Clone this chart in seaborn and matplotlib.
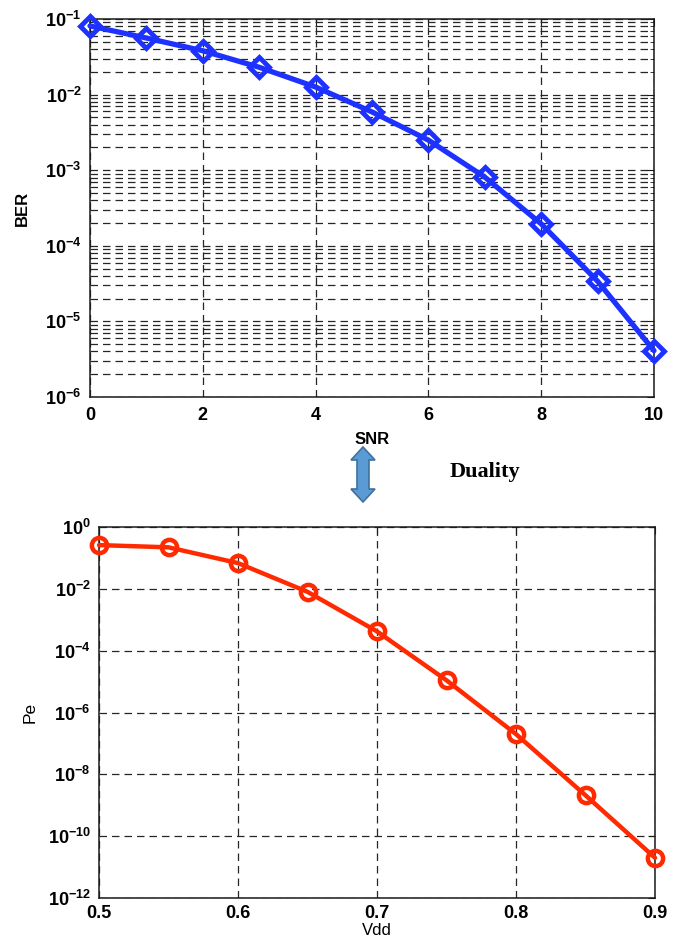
import numpy as np
import pandas as pd
import matplotlib
matplotlib.use("Agg")
import matplotlib.pyplot as plt
import matplotlib.ticker as mticker
from matplotlib.patches import Polygon
import seaborn as sns

# ---- data ----
snr = [0, 1, 2, 3, 4, 5, 6, 7, 8, 9, 10]
ber = [0.081, 0.056, 0.038, 0.023, 0.0126, 0.0059, 0.0025, 8.1e-4, 1.95e-4, 3.4e-5, 4.1e-6]

vdd = [0.5, 0.55, 0.6, 0.65, 0.7, 0.75, 0.8, 0.85, 0.9]
pe = [0.26, 0.22, 0.068, 0.008, 4.2e-4, 1.1e-5, 2.0e-7, 2.1e-9, 2.0e-11]

snr_ticks = [0, 2, 4, 6, 8, 10]
vdd_ticks = [0.5, 0.6, 0.7, 0.8, 0.9]
pe_ticks = [1e0, 1e-2, 1e-4, 1e-6, 1e-8, 1e-10, 1e-12]

sns.set_style("white")
plt.rcParams['font.family'] = ['Liberation Sans', 'DejaVu Sans']
plt.rcParams['mathtext.fontset'] = 'custom'
plt.rcParams['mathtext.bf'] = 'Liberation Sans:bold'
plt.rcParams['mathtext.rm'] = 'Liberation Sans'
plt.rcParams['axes.unicode_minus'] = False
plt.rcParams['text.color'] = 'black'
plt.rcParams['axes.labelcolor'] = 'black'

fig = plt.figure(figsize=(6.81, 9.42), dpi=100)
ax1 = fig.add_axes([90/681, 1-397/942, (654-90)/681, (397-19)/942])
ax2 = fig.add_axes([99/681, 1-898/942, (655-99)/681, (898-527)/942])

def logfmt(v, pos):
    if v <= 0:
        return ''
    e = int(round(np.log10(v)))
    return r'$\mathbf{10^{%d}}$' % e

grid_kw = dict(linestyle=(0, (6, 4)), color='0.15', linewidth=0.9)

# ---- top plot ----
df1 = pd.DataFrame({'SNR': snr, 'BER': ber})
sns.lineplot(data=df1, x='SNR', y='BER', ax=ax1, color='#1E32FF', lw=3.8,
             marker='D', markersize=10, markerfacecolor='none',
             markeredgecolor='#1E32FF', markeredgewidth=3.5, clip_on=False, zorder=5)
ax1.set_yscale('log')
ax1.set_ylim(1e-6, 1e-1)
ax1.set_xlim(0, 10)
ax1.set_xticks(snr_ticks)
ax1.yaxis.set_major_locator(mticker.LogLocator(base=10, numticks=20))
ax1.yaxis.set_minor_locator(mticker.LogLocator(base=10, subs=np.arange(2, 10), numticks=100))
ax1.yaxis.set_major_formatter(mticker.FuncFormatter(logfmt))
ax1.yaxis.set_minor_formatter(mticker.NullFormatter())
ax1.grid(which='major', axis='both', **grid_kw)
ax1.grid(which='minor', axis='y', **grid_kw)
ax1.set_xlabel('SNR', fontsize=12, fontweight='bold', labelpad=6)
ax1.set_ylabel('BER', fontsize=12, fontweight='bold', labelpad=11)

# ---- bottom plot ----
df2 = pd.DataFrame({'Vdd': vdd, 'Pe': pe})
sns.lineplot(data=df2, x='Vdd', y='Pe', ax=ax2, color='#FF2A00', lw=3.2,
             marker='o', markersize=11, markerfacecolor='none',
             markeredgecolor='#FF2A00', markeredgewidth=3.2, clip_on=False, zorder=5)
ax2.set_yscale('log')
ax2.set_ylim(1e-12, 1e0)
ax2.set_xlim(0.5, 0.9)
ax2.set_xticks(vdd_ticks)
ax2.set_yticks(pe_ticks)
ax2.yaxis.set_minor_locator(mticker.NullLocator())
ax2.yaxis.set_major_formatter(mticker.FuncFormatter(logfmt))
ax2.xaxis.set_major_formatter(mticker.FormatStrFormatter('%.1f'))
ax2.grid(which='major', axis='both', **grid_kw)
ax2.set_xlabel('Vdd', fontsize=12, labelpad=1)
ax2.set_ylabel('Pe', fontsize=12.5, labelpad=7)

for ax in (ax1, ax2):
    for s in ax.spines.values():
        s.set_visible(True)
        s.set_color('0.1')
        s.set_linewidth(1.1)
    ax.tick_params(which='both', direction='in', top=True, right=True,
                   colors='0.1', labelcolor='black')
    ax.tick_params(which='major', length=5)
    ax.tick_params(which='minor', length=3)
    ax.tick_params(axis='both', labelsize=13)
    ax.tick_params(axis='x', pad=7)
    ax.tick_params(axis='y', pad=6)
    for lab in ax.get_xticklabels() + ax.get_yticklabels():
        lab.set_fontweight('bold')
    ax.set_axisbelow(True)
ax2.tick_params(axis='x', pad=5)

# ---- duality arrow and label ----
pts_px = [(363, 447), (375, 460), (369, 460), (369, 489), (375, 489),
          (363, 502), (351, 489), (357, 489), (357, 460), (351, 460)]
pts = [(x/681, 1 - y/942) for x, y in pts_px]
fig.patches.append(Polygon(pts, closed=True, transform=fig.transFigure,
                           facecolor='#5B9BD5', edgecolor='#41719C', lw=1.2))
fig.text(485/681, 1 - 472/942, 'Duality', ha='center', va='center',
         fontsize=16, fontweight='bold', family=['Liberation Serif', 'DejaVu Serif'])

fig.savefig('out.png', dpi=100)
